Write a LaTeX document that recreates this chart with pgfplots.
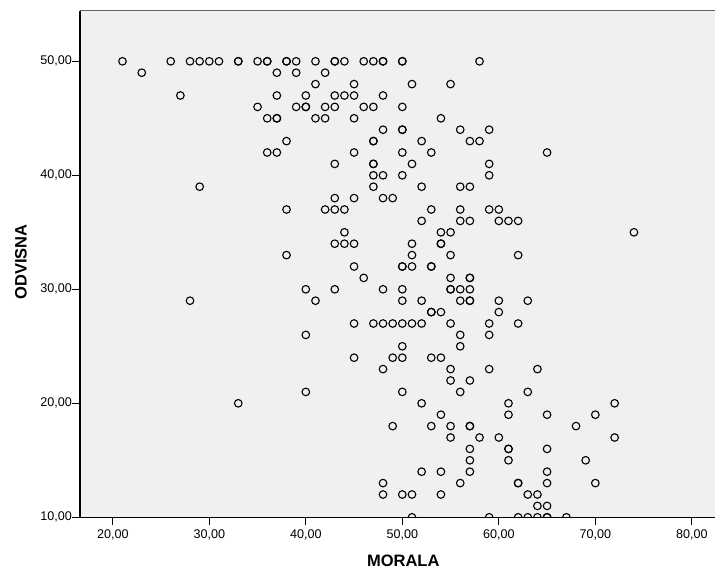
\documentclass[border=0pt]{standalone}
\usepackage{pgfplots}
\pgfplotsset{compat=1.18}
\usepackage{fontspec}
\setmainfont{Liberation Sans}
\definecolor{bgc}{RGB}{240,240,240}
\definecolor{topc}{RGB}{100,100,100}
\begin{document}
\begin{tikzpicture}
\useasboundingbox (-80pt,-54.7pt) rectangle (635pt,517.3pt);
\begin{axis}[
  at={(0pt,0pt)}, anchor=south west,
  scale only axis, width=635pt, height=506.6pt,
  xmin=16.6, xmax=82.4, ymin=10, ymax=54.44,
  axis x line*=bottom, axis y line*=left,
  axis line style={black, line width=1.2pt},
  axis background/.style={fill=bgc},
  xtick={20,30,...,80}, ytick={10,20,...,50},
  minor tick num=0,
  tick align=outside, major tick length=7.5pt,
  tick style={black, line width=1.2pt},
  /pgf/number format/fixed,
  /pgf/number format/fixed zerofill,
  /pgf/number format/precision=2,
  /pgf/number format/use comma,
  /pgf/number format/assume math mode=true,
  ticklabel style={font=\fontsize{12.6}{14}\selectfont, inner sep=0pt},
  xticklabel style={yshift=-4.5pt},
  yticklabel style={xshift=-0.5pt},
  xlabel={MORALA}, ylabel={ODVISNA},
  xlabel style={font=\fontsize{16.5}{18}\selectfont\bfseries, at={([yshift=-43.7pt]axis description cs:0.509,0)}, anchor=center, inner sep=0pt},
  ylabel style={font=\fontsize{16.5}{18}\selectfont\bfseries, at={([xshift=-59pt]axis description cs:0,0.504)}, anchor=center, inner sep=0pt, rotate=0},
  clip marker paths=true,
]
\addplot[only marks, mark=o, mark size=3.8pt, mark options={black, line width=1.1pt}] table {
x y
21 50
26 50
28 50
29 50
30 50
31 50
33 50
33 50
35 50
36 50
36 50
38 50
38 50
39 50
41 50
43 50
43 50
44 50
46 50
47 50
48 50
48 50
50 50
50 50
58 50
23 49
37 49
39 49
42 49
41 48
45 48
51 48
55 48
27 47
37 47
40 47
43 47
44 47
45 47
48 47
35 46
39 46
40 46
40 46
42 46
43 46
46 46
47 46
50 46
36 45
37 45
37 45
41 45
42 45
45 45
54 45
48 44
50 44
50 44
56 44
59 44
38 43
47 43
47 43
52 43
57 43
58 43
36 42
37 42
45 42
50 42
53 42
65 42
43 41
47 41
47 41
51 41
59 41
47 40
48 40
50 40
59 40
29 39
47 39
52 39
56 39
57 39
43 38
45 38
48 38
49 38
38 37
42 37
43 37
44 37
53 37
56 37
59 37
60 37
52 36
56 36
57 36
60 36
61 36
62 36
44 35
54 35
55 35
74 35
43 34
44 34
45 34
51 34
54 34
54 34
38 33
51 33
55 33
62 33
45 32
50 32
50 32
51 32
53 32
53 32
46 31
55 31
57 31
57 31
40 30
43 30
48 30
50 30
55 30
55 30
56 30
57 30
28 29
41 29
50 29
52 29
56 29
57 29
57 29
60 29
63 29
53 28
53 28
54 28
60 28
45 27
47 27
48 27
49 27
50 27
51 27
52 27
55 27
59 27
62 27
40 26
56 26
59 26
50 25
56 25
45 24
49 24
50 24
53 24
54 24
48 23
55 23
59 23
64 23
55 22
57 22
40 21
50 21
56 21
63 21
33 20
52 20
61 20
72 20
54 19
61 19
65 19
70 19
49 18
53 18
55 18
57 18
57 18
68 18
55 17
58 17
60 17
72 17
57 16
61 16
61 16
65 16
57 15
61 15
69 15
52 14
54 14
57 14
65 14
48 13
56 13
62 13
62 13
65 13
70 13
48 12
50 12
51 12
54 12
63 12
64 12
64 11
65 11
51 10
59 10
62 10
63 10
64 10
65 10
65 10
67 10
};
\draw[topc, line width=1.2pt] (rel axis cs:0,1) -- (rel axis cs:1,1);
\end{axis}
\end{tikzpicture}
\end{document}
